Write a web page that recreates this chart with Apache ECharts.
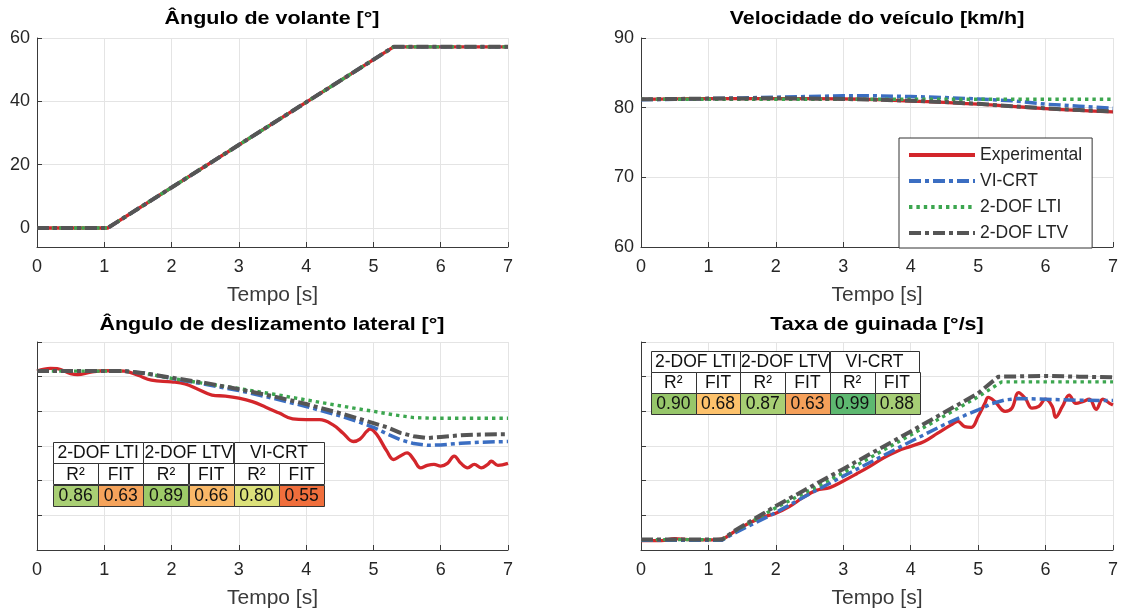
<!DOCTYPE html>
<html>
<head>
<meta charset="utf-8">
<title>Rampa de esterçamento – comparação de modelos</title>
<script src="https://cdn.jsdelivr.net/npm/echarts@6/dist/echarts.min.js"></script>
<style>
  html, body { margin: 0; padding: 0; background: #ffffff; }
  #chart { width: 1121px; height: 612px; }
</style>
</head>
<body>
<div id="chart"></div>
<script>
// ---- Series names ----
const seriesNames = ['Experimental', 'VI-CRT', '2-DOF LTI', '2-DOF LTV'];

// ---- Ângulo de volante [°] : [tempo, valor] ----
const steerExp = [[0, 0], [1.05, 0], [5.3, 57.2], [7, 57.2]];
const steerVi  = [[0, 0], [1.05, 0], [5.3, 57.2], [7, 57.2]];
const steerLti = [[0, 0], [1.05, 0], [5.3, 57.2], [7, 57.2]];
const steerLtv = [[0, 0], [1.05, 0], [5.3, 57.2], [7, 57.2]];

// ---- Velocidade do veículo [km/h] ----
const velExp = [[0, 81.2], [0.5, 81.25], [1, 81.3], [2, 81.3], [3, 81.25], [3.5, 81.15], [4, 80.95],
                [4.5, 80.75], [5, 80.5], [5.5, 80.2], [6, 79.85], [6.5, 79.6], [7, 79.4]];
const velVi  = [[0, 81.15], [0.5, 81.2], [1, 81.3], [1.5, 81.4], [2, 81.5], [2.5, 81.6], [3, 81.7],
                [3.5, 81.7], [4, 81.6], [4.5, 81.45], [5, 81.25], [5.5, 81.0], [6, 80.5], [6.5, 80.2], [7, 79.9]];
const velLti = [[0, 81.2], [1, 81.2], [2, 81.2], [3, 81.2], [4, 81.2], [5, 81.2], [6, 81.2], [7, 81.2]];
const velLtv = [[0, 81.2], [1, 81.3], [2, 81.35], [3, 81.25], [3.5, 81.15], [4, 81.0], [4.5, 80.8],
                [5, 80.55], [5.5, 80.2], [6, 79.9], [6.5, 79.65], [7, 79.45]];

// ---- Ângulo de deslizamento lateral [°] ----
const slipExp = [[0, 0.16], [0.2, 0.24], [0.3, 0.23], [0.5, 0.09], [0.6, 0.06], [0.8, 0.13], [1.0, 0.17],
                 [1.3, 0.16], [1.5, 0.04], [1.7, -0.10], [2.0, -0.15], [2.2, -0.21], [2.4, -0.37],
                 [2.6, -0.53], [2.8, -0.56], [3.0, -0.62], [3.2, -0.72], [3.4, -0.88], [3.6, -1.05],
                 [3.8, -1.22], [4.0, -1.24], [4.2, -1.24], [4.4, -1.39], [4.55, -1.63], [4.7, -1.87],
                 [4.8, -1.80], [4.9, -1.58], [4.95, -1.51], [5.05, -1.67], [5.2, -2.15], [5.3, -2.39],
                 [5.4, -2.29], [5.5, -2.20], [5.6, -2.39], [5.7, -2.63], [5.8, -2.56], [5.9, -2.53],
                 [6.0, -2.58], [6.1, -2.50], [6.2, -2.29], [6.3, -2.50], [6.4, -2.63], [6.5, -2.53],
                 [6.6, -2.63], [6.7, -2.53], [6.75, -2.44], [6.85, -2.56], [7.0, -2.50]];
const slipVi  = [[0, 0.16], [1.3, 0.16], [1.6, 0.1], [2, -0.05], [2.5, -0.22], [3, -0.4], [3.5, -0.62],
                 [4, -0.86], [4.5, -1.13], [4.8, -1.32], [5, -1.46], [5.2, -1.65], [5.4, -1.82],
                 [5.6, -1.93], [5.8, -1.98], [6, -1.97], [6.3, -1.92], [6.6, -1.89], [7, -1.87]];
const slipLti = [[0, 0.16], [1.3, 0.16], [1.6, 0.1], [2, -0.05], [2.5, -0.2], [3, -0.34], [3.5, -0.5],
                 [4, -0.67], [4.5, -0.84], [5, -1.0], [5.3, -1.1], [5.6, -1.18], [5.9, -1.2], [7, -1.2]];
const slipLtv = [[0, 0.16], [1.3, 0.16], [1.6, 0.1], [2, -0.03], [2.5, -0.18], [3, -0.36], [3.5, -0.56],
                 [4, -0.79], [4.5, -1.05], [4.8, -1.22], [5, -1.34], [5.2, -1.46], [5.4, -1.62],
                 [5.6, -1.72], [5.8, -1.77], [6.0, -1.74], [6.3, -1.69], [6.6, -1.67], [7, -1.66]];

// ---- Taxa de guinada [°/s] ----
const yawExp = [[0, -0.73], [0.3, -0.73], [0.5, -0.67], [0.7, -0.70], [1.0, -0.71], [1.2, -0.68],
                [1.4, -0.45], [1.6, -0.23], [1.8, -0.06], [2.0, 0.06], [2.2, 0.25], [2.4, 0.51],
                [2.6, 0.72], [2.8, 0.80], [3.0, 0.99], [3.2, 1.20], [3.4, 1.42], [3.6, 1.66],
                [3.8, 1.85], [4.0, 1.99], [4.2, 2.13], [4.4, 2.37], [4.6, 2.61], [4.7, 2.71],
                [4.8, 2.56], [4.9, 2.54], [5.0, 2.85], [5.1, 3.23], [5.15, 3.40], [5.25, 3.28],
                [5.4, 3.0], [5.5, 3.09], [5.6, 3.54], [5.7, 3.37], [5.8, 3.09], [5.9, 3.14],
                [6.0, 3.35], [6.1, 3.14], [6.15, 2.83], [6.25, 3.14], [6.35, 3.47], [6.45, 3.23],
                [6.55, 3.28], [6.65, 3.35], [6.75, 3.06], [6.85, 3.35], [6.95, 3.23], [7.0, 3.18]];
const yawVi  = [[0, -0.72], [1.2, -0.72], [1.4, -0.5], [2, 0.08], [2.5, 0.62], [3, 1.13], [3.5, 1.63],
                [4, 2.13], [4.5, 2.62], [4.8, 2.88], [5, 3.04], [5.2, 3.22], [5.4, 3.33], [5.6, 3.37],
                [6, 3.35], [6.5, 3.32], [7, 3.31]];
const yawLti = [[0, -0.7], [1.2, -0.7], [1.4, -0.45], [2, 0.22], [3, 1.23], [4, 2.32], [5, 3.42],
                [5.35, 3.85], [6, 3.85], [7, 3.85]];
const yawLtv = [[0, -0.7], [1.2, -0.7], [1.4, -0.43], [2, 0.27], [3, 1.34], [4, 2.42], [5, 3.52],
                [5.3, 4.0], [6, 4.02], [6.5, 4.0], [7, 3.98]];

// ---- Axis tick values ----
const steerTicks = [0, 20, 40, 60];

// ---- Tabelas de índices de ajuste ----
const tableGroups = ['2-DOF LTI', '2-DOF LTV', 'VI-CRT'];
const tableColumns = ['R²', 'FIT', 'R²', 'FIT', 'R²', 'FIT'];
const slipScores = ['0.86', '0.63', '0.89', '0.66', '0.80', '0.55'];
const slipScoreColors = ['#A9CF74', '#F5A35B', '#9DCA68', '#F9B868', '#DCE17A', '#F06E3C'];
const yawScores = ['0.90', '0.68', '0.87', '0.63', '0.99', '0.88'];
const yawScoreColors = ['#97C66A', '#FDC26C', '#A8CF74', '#F5A05A', '#5DB870', '#A6CE75'];

// ---- Styling ----
const FONT = '"Liberation Sans", Arial, Helvetica, sans-serif';
const lineStyles = {
  'Experimental': { color: '#D3262B', width: 3.3, type: 'solid' },
  'VI-CRT':       { color: '#3B6EC2', width: 3.5, type: [12, 4, 4, 4] },
  '2-DOF LTI':    { color: '#3CA64F', width: 3.4, type: [3.4, 4] },
  '2-DOF LTV':    { color: '#555555', width: 4, type: [12, 4, 4, 4] }
};

const panels = [
  { data: [steerExp, steerVi, steerLti, steerLtv], smoothExp: 0 },
  { data: [velExp, velVi, velLti, velLtv], smoothExp: 0.3 },
  { data: [slipExp, slipVi, slipLti, slipLtv], smoothExp: 0.4 },
  { data: [yawExp, yawVi, yawLti, yawLtv], smoothExp: 0.4 }
];

const grids = [
  { left: 37,  top: 38,  width: 471, height: 209 },
  { left: 641, top: 38,  width: 472, height: 209 },
  { left: 37,  top: 342, width: 471, height: 208 },
  { left: 641, top: 342, width: 472, height: 208 }
];

const axisLineStyle = { color: '#3a3a3a', width: 1 };
const gridLineStyle = { color: '#E4E4E4', width: 1 };

const xAxes = grids.map((g, i) => ({
  type: 'value', gridIndex: i, min: 0, max: 7, interval: 1,
  name: 'Tempo [s]', nameLocation: 'middle', nameGap: 38,
  nameTextStyle: { fontFamily: FONT, fontSize: 21, color: '#3a3a3a' },
  axisLine: { show: true, onZero: false, lineStyle: axisLineStyle },
  axisTick: { show: true, inside: true, length: 5, lineStyle: axisLineStyle },
  axisLabel: { fontFamily: FONT, fontSize: 18, color: '#262626', margin: 11 },
  splitLine: { show: true, lineStyle: gridLineStyle }
}));

const yBase = {
  type: 'value',
  axisLine: { show: true, onZero: false, lineStyle: axisLineStyle },
  axisTick: { show: true, inside: true, length: 5, lineStyle: axisLineStyle },
  axisLabel: { fontFamily: FONT, fontSize: 18, color: '#262626', margin: 7 },
  splitLine: { show: true, lineStyle: gridLineStyle }
};

const yAxes = [
  Object.assign({}, yBase, {
    gridIndex: 0, min: -6, max: 60,
    axisTick: Object.assign({}, yBase.axisTick, { customValues: steerTicks }),
    axisLabel: Object.assign({}, yBase.axisLabel, { customValues: steerTicks })
  }),
  Object.assign({}, yBase, { gridIndex: 1, min: 60, max: 90, interval: 10 }),
  Object.assign({}, yBase, { gridIndex: 2, min: -5, max: 1, interval: 1,
    axisLabel: { show: false } }),
  Object.assign({}, yBase, { gridIndex: 3, min: -1, max: 5, interval: 1,
    axisLabel: { show: false } })
];

const series = [];
panels.forEach((p, gi) => {
  p.data.forEach((d, si) => {
    const name = seriesNames[si];
    series.push({
      type: 'line', name: name, xAxisIndex: gi, yAxisIndex: gi,
      data: d, showSymbol: false, symbol: 'none',
      smooth: si === 0 ? p.smoothExp : false,
      lineStyle: Object.assign({ cap: 'butt', join: 'round' }, lineStyles[name]),
      itemStyle: { color: lineStyles[name].color },
      emphasis: { disabled: true },
      animation: false,
      z: 2 + si
    });
  });
});

// ---- Panel titles ----
const titleEls = [
  { text: 'Ângulo de volante [°]', x: 272, y: 19 },
  { text: 'Velocidade do veículo [km/h]', x: 877, y: 19 },
  { text: 'Ângulo de deslizamento lateral [°]', x: 272, y: 325 },
  { text: 'Taxa de guinada [°/s]', x: 877, y: 325 }
].map(t => ({
  type: 'text', x: t.x, y: t.y, scaleX: 1.13, z: 10,
  style: { text: t.text, font: 'bold 19px ' + FONT, fill: '#000000',
           textAlign: 'center', textVerticalAlign: 'middle' }
}));

// ---- Score tables ----
function buildTable(x0, y0, colW, rowH, scores, fills) {
  const els = [];
  const cell = (x, y, w, h, fill, text) => {
    els.push({ type: 'rect', z: 20,
      shape: { x: Math.round(x) + 0.5, y: Math.round(y) + 0.5, width: Math.round(w), height: Math.round(h) },
      style: { fill: fill, stroke: '#333333', lineWidth: 1 } });
    els.push({ type: 'text', z: 21, x: x + w / 2, y: y + h / 2 + 1,
      style: { text: text, font: '17.5px ' + FONT, fill: '#111111',
               textAlign: 'center', textVerticalAlign: 'middle' } });
  };
  tableGroups.forEach((g, i) => cell(x0 + i * 2 * colW, y0, 2 * colW, rowH, '#ffffff', g));
  tableColumns.forEach((c, i) => cell(x0 + i * colW, y0 + rowH, colW, rowH, '#ffffff', c));
  scores.forEach((v, i) => cell(x0 + i * colW, y0 + 2 * rowH, colW, rowH, fills[i], v));
  return els;
}

const tableEls = [].concat(
  buildTable(53, 442, 45.2, 21.3, slipScores, slipScoreColors),
  buildTable(651, 351, 44.7, 21, yawScores, yawScoreColors)
);

const chart = echarts.init(document.getElementById('chart'), null, { renderer: 'canvas' });
chart.setOption({
  backgroundColor: '#ffffff',
  animation: false,
  textStyle: { fontFamily: FONT },
  grid: grids,
  xAxis: xAxes,
  yAxis: yAxes,
  legend: {
    data: seriesNames, orient: 'vertical', left: 899, top: 138,
    backgroundColor: '#ffffff', borderColor: '#333333', borderWidth: 1,
    padding: [8, 10, 6, 8], itemWidth: 66, itemHeight: 16, itemGap: 8,
    selectedMode: false, z: 30,
    itemStyle: { opacity: 0 },
    lineStyle: { width: 4, opacity: 1 },
    textStyle: { fontFamily: FONT, fontSize: 17.5, color: '#262626' }
  },
  graphic: { elements: titleEls.concat(tableEls) },
  series: series
});
</script>
</body>
</html>
